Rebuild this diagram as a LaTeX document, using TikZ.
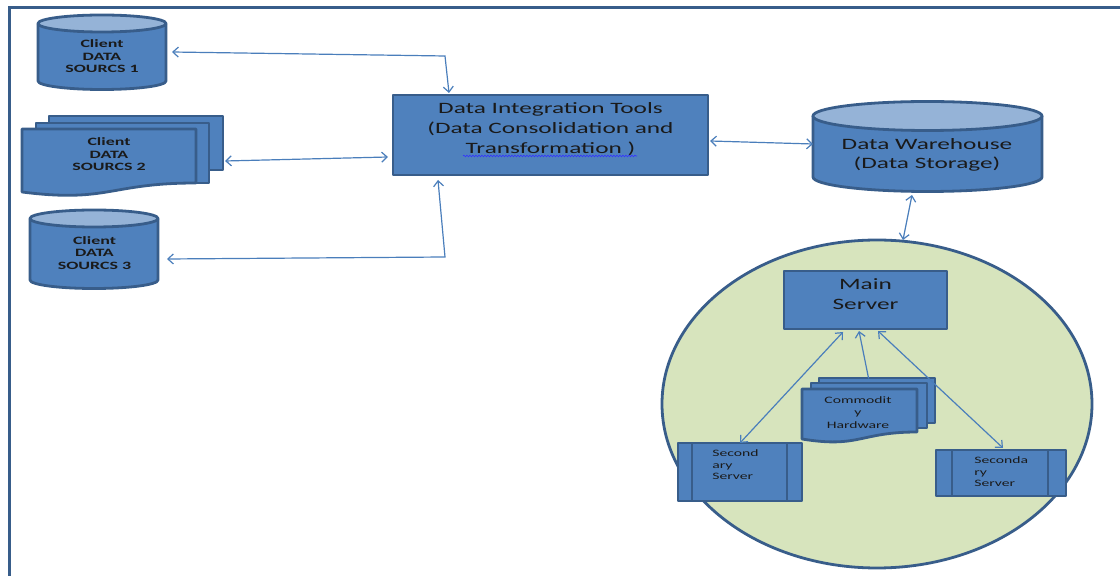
\documentclass[tikz,border=0pt]{standalone}
\usepackage{fontspec}
\setmainfont{Carlito}[FakeStretch=1.6]
\usetikzlibrary{arrows.meta,shapes.geometric,decorations.pathmorphing}
\definecolor{blu}{HTML}{4F81BD}
\definecolor{bdr}{HTML}{385D8A}
\definecolor{lite}{HTML}{95B3D7}
\definecolor{arr}{HTML}{4A7EBB}
\definecolor{cir}{HTML}{D7E4BD}
\definecolor{ink}{HTML}{1A1A1A}
\newcommand\dbcan[5]{%
  \fill[blu] ({#1-#2},#3) -- ({#1-#2},#4) arc[start angle=180,end angle=360,x radius=#2,y radius=#5]
     -- ({#1+#2},#3) arc[start angle=0,end angle=180,x radius=#2,y radius=#5] -- cycle;
  \draw[shapeline] ({#1-#2},#3) -- ({#1-#2},#4) arc[start angle=180,end angle=360,x radius=#2,y radius=#5] -- ({#1+#2},#3);
  \draw[shapeline,fill=lite] (#1,#3) ellipse[x radius=#2,y radius=#5];}
\begin{document}
\begin{tikzpicture}[x=1pt,y=1pt,
  >={Straight Barb[length=5.5pt,width=10pt]},
  every node/.style={outer sep=0pt},
  shapeline/.style={draw=bdr,line width=2.8pt,line join=round},
  box/.style={shapeline,fill=blu,inner sep=0pt},
  holder/.style={draw=none,fill=none,inner sep=0pt},
  conn/.style={draw=arr,line width=1.2pt,line cap=round},
  bigtxt/.style={text=ink,align=center,font=\fontsize{15.8}{20}\selectfont},
  smalltxt/.style={text=ink,align=center,font=\bfseries\fontsize{11.2}{12.5}\selectfont},
  tinytxt/.style={text=ink,font=\fontsize{9.8}{11.5}\selectfont}]
\useasboundingbox (0,0) rectangle (1120,576);
% frame
\draw[draw=bdr,line width=3pt] (1120,568) -- (9.5,568) -- (9.5,0);

% client data source 1
\dbcan{102}{64}{552.5}{495}{8.5}
\node[holder,minimum width=128,minimum height=76] (c1) at (102,524) {};
\node[smalltxt] (t1) at (102,519.5) {Client\\DATA\\SOURCS 1};

% client data source 2 (multi document)
\filldraw[shapeline,fill=blu] (49,460) rectangle (223,406);
\filldraw[shapeline,fill=blu] (36,453) rectangle (209,393);
\filldraw[shapeline,fill=blu] (22,447) -- (196,447) -- (196,393) .. controls (109,393) and (109,373) .. (22,384) -- cycle;
\node[holder,minimum width=201,minimum height=77] (md2) at (122.5,421.5) {};
\node[smalltxt] (t2) at (109,421.5) {Client\\DATA\\SOURCS 2};

% client data source 3
\dbcan{94}{64}{357.5}{296}{8.5}
\node[holder,minimum width=128,minimum height=78] (c3) at (94,327) {};
\node[smalltxt] (t3) at (94.5,323) {Client\\DATA\\SOURCS 3};

% data integration tools
\node[box,minimum width=315,minimum height=80] (dit) at (550.5,441) {};
\node[bigtxt] (tdit) at (550.5,447) {Data Integration Tools\\(Data Consolidation and\\Transformation )};
\draw[blue!80!white,line width=0.6pt,decorate,decoration={snake,amplitude=0.8pt,segment length=3pt}] (463,420) -- (637,420);

% data warehouse
\dbcan{927.5}{114.5}{460}{399}{14.5}
\node[holder,minimum width=229,minimum height=90] (dw) at (927.5,429) {};
\node[bigtxt,font=\fontsize{15.8}{19.5}\selectfont] (tdw) at (927,421) {Data Warehouse\\(Data Storage)};

% connectors left side
\coordinate (j1) at (445,520);
\coordinate (j3) at (445,319);
\draw[conn,<->] ([xshift=6pt]c1.east) -- (j1) -- ([xshift=56pt,yshift=2pt]dit.north west);
\draw[conn,<->] ([xshift=2pt,yshift=-6.5pt]md2.east) -- ([xshift=-5pt,yshift=-22pt]dit.west);
\draw[conn,<->] ([xshift=9pt,yshift=-10pt]c3.east) -- (j3) -- ([xshift=45pt,yshift=-5pt]dit.south west);
\draw[conn,<->] ([xshift=2pt,yshift=-6pt]dit.east) -- ([yshift=3pt]dw.west);

% cluster
\node[ellipse,draw=bdr,fill=cir,line width=2.8pt,minimum width=430,minimum height=328,inner sep=0pt] (cl) at (877,172) {};
\draw[conn,<->] ([xshift=-15.5pt,yshift=-3pt]dw.south) -- ([xshift=26pt]cl.north);

\node[box,minimum width=163,minimum height=58] (ms) at (865.5,276) {};
\node[bigtxt,font=\fontsize{15.8}{20}\selectfont] (tms) at (865.5,282) {Main\\Server};

% commodity hardware
\filldraw[shapeline,fill=blu] (819,198) rectangle (935,153);
\filldraw[shapeline,fill=blu] (811,193) rectangle (927,148);
\filldraw[shapeline,fill=blu] (802,187) -- (917,187) -- (917,144) .. controls (859.5,144) and (859.5,127.6) .. (802,137) -- cycle;
\node[holder,minimum width=133,minimum height=63] (hw) at (868.5,166.5) {};
\node[tinytxt,align=center,font=\fontsize{9.8}{12.5}\selectfont] (thw) at (858,163.5) {Commodit\\y\\Hardware};

% secondary servers
\node[box,minimum width=124,minimum height=58] (s1) at (740,104) {};
\draw[shapeline] ([xshift=14pt]s1.north west) -- ([xshift=14pt]s1.south west);
\draw[shapeline] ([xshift=-15pt]s1.north east) -- ([xshift=-15pt]s1.south east);
\node[tinytxt,align=left,anchor=west] (ts1) at (709,111) {Second\\ary\\Server};

\node[box,minimum width=130,minimum height=46] (s2) at (1001,103) {};
\draw[shapeline] ([xshift=16pt]s2.north west) -- ([xshift=16pt]s2.south west);
\draw[shapeline] ([xshift=-18pt]s2.north east) -- ([xshift=-18pt]s2.south east);
\node[tinytxt,align=left,anchor=west] (ts2) at (971,104) {Seconda\\ry\\Server};

% cluster connectors
\draw[conn,<->] ([xshift=-22.5pt,yshift=-3pt]ms.south) -- (s1.north);
\draw[conn,->] (hw.north) -- ([xshift=-6.5pt,yshift=-2pt]ms.south);
\draw[conn,<->] ([xshift=12.5pt,yshift=-2pt]ms.south) -- ([xshift=2pt,yshift=2pt]s2.north);
\end{tikzpicture}
\end{document}
